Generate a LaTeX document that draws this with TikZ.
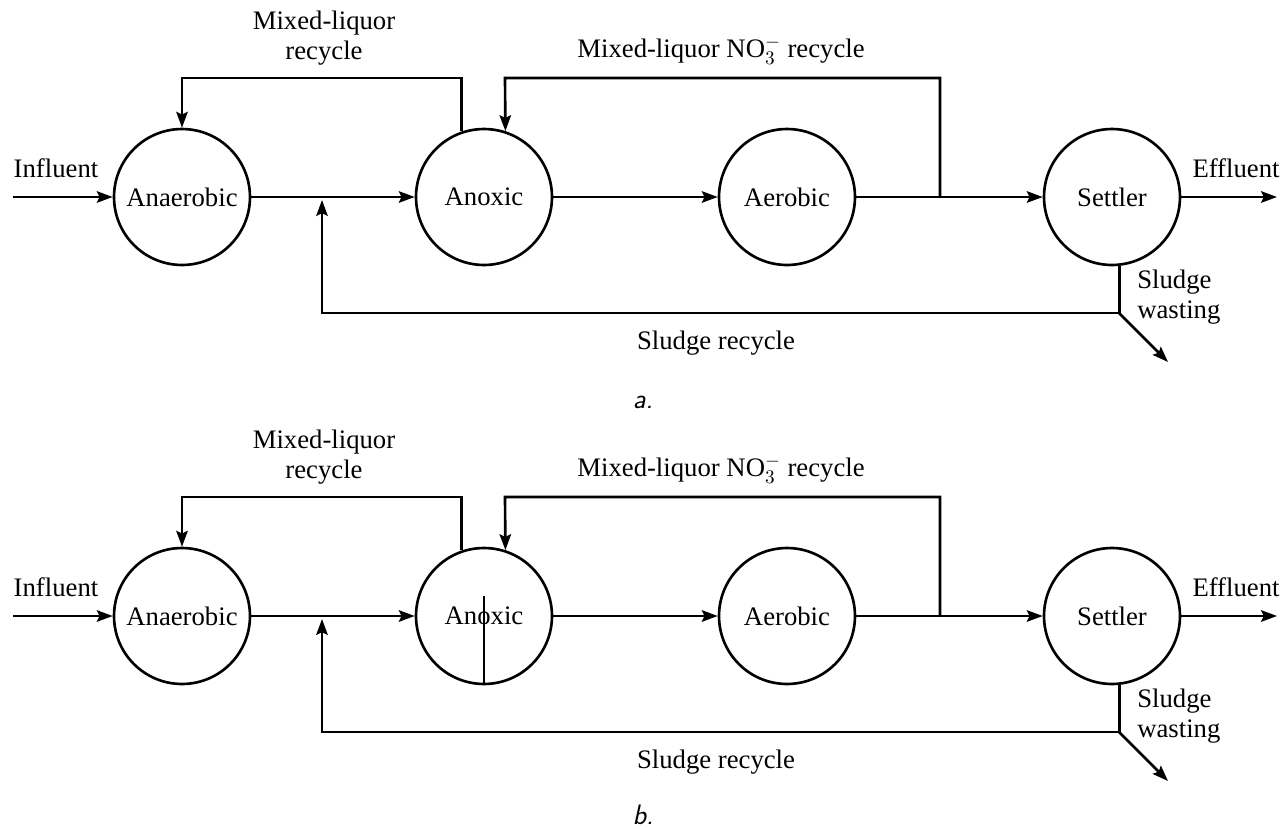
\documentclass[tikz,border=0pt]{standalone}
\usepackage{fontspec}
\setmainfont{Liberation Serif}
\usetikzlibrary{arrows.meta}

\tikzset{
  tank/.style={draw,circle,line width=1.5pt,minimum size=2.72cm,inner sep=0pt},
  pipe/.style={line width=1.5pt,line join=miter},
  flow/.style={pipe,-{Stealth[length=9pt,width=6.5pt,inset=1.5pt]}},
  lbl/.style={inner sep=0pt,align=center},
  tag/.style={inner sep=0pt,font=\fontsize{16}{18}\selectfont\sffamily\itshape},
}

\begin{document}
\begin{tikzpicture}[x=0.02cm,y=-0.02cm,font=\fontsize{15.2}{17}\selectfont]
  \useasboundingbox (0,0) rectangle (1286,829);

  % a.
  \node[tank] (anaer) at (182,197) {Anaerobic};
  \node[tank] (anox) at (484,197) {Anoxic};
  \node[tank] (aer) at (787,197) {Aerobic};
  \node[tank] (settl) at (1112,197) {Settler};

  \coordinate (inA) at (13,197);
  \coordinate (outA) at (1277,197);
  \coordinate (sjA) at (322,200);
  \coordinate (sbA) at (322,313);
  \coordinate (swA) at (1119,313);
  \coordinate (wasteA) at (1168,362);
  \coordinate (mlA) at (182,78);
  \coordinate (njA) at (940,197);
  \coordinate (ntA) at (505,78);

  \draw[flow] (inA) -- (anaer);
  \draw[flow] (anaer) -- (anox);
  \draw[flow] (anox) -- (aer);
  \draw[flow] (aer) -- (settl);
  \draw[flow] (settl) -- (outA);
  \draw[flow] (anox.109) |- (mlA) -- (anaer.north);
  \draw[flow] (njA) |- (ntA) -- (anox.72);
  \draw[flow] (settl.276) |- (sbA) -- (sjA);
  \draw[flow] (swA) -- (wasteA);

  \node[lbl] (inlblA) at (56,168) {Influent};
  \node[lbl] (outlblA) at (1236,168) {Effluent};
  \node[lbl] (mllblA) at (324,38) {Mixed-liquor\\recycle};
  \node[lbl] (nolblA) at (721,50) {Mixed-liquor NO$_3^-$ recycle};
  \node[lbl] (srlblA) at (716,343) {Sludge recycle};
  \node[lbl,align=left,anchor=west] (swlblA) at (1137,297) {Sludge\\wasting};
  \node[tag] (tagA) at (643,402) {a.};

  % b.
  \begin{scope}[shift={(0,419)}]
    \node[tank] (anaerb) at (182,197) {Anaerobic};
    \node[tank] (anoxb) at (484,197) {Anoxic};
    \node[tank] (aerb) at (787,197) {Aerobic};
    \node[tank] (settlb) at (1112,197) {Settler};

    \coordinate (inB) at (13,197);
    \coordinate (outB) at (1277,197);
    \coordinate (sjB) at (322,200);
    \coordinate (sbB) at (322,313);
    \coordinate (swB) at (1119,313);
    \coordinate (wasteB) at (1168,362);
    \coordinate (mlB) at (182,78);
    \coordinate (njB) at (940,197);
    \coordinate (ntB) at (505,78);

    \draw[flow] (inB) -- (anaerb);
    \draw[flow] (anaerb) -- (anoxb);
    \draw[flow] (anoxb) -- (aerb);
    \draw[flow] (aerb) -- (settlb);
    \draw[flow] (settlb) -- (outB);
    \draw[flow] (anoxb.109) |- (mlB) -- (anaerb.north);
    \draw[flow] (njB) |- (ntB) -- (anoxb.72);
    \draw[flow] (settlb.276) |- (sbB) -- (sjB);
    \draw[flow] (swB) -- (wasteB);
    \draw[pipe] (anoxb.south) -- ++(0,-89);

    \node[lbl] (inlblB) at (56,168) {Influent};
    \node[lbl] (outlblB) at (1236,168) {Effluent};
    \node[lbl] (mllblB) at (324,38) {Mixed-liquor\\recycle};
    \node[lbl] (nolblB) at (721,50) {Mixed-liquor NO$_3^-$ recycle};
    \node[lbl] (srlblB) at (716,343) {Sludge recycle};
    \node[lbl,align=left,anchor=west] (swlblB) at (1137,297) {Sludge\\wasting};
  \end{scope}
  \node[tag] (tagB) at (643,815) {b.};
\end{tikzpicture}
\end{document}
